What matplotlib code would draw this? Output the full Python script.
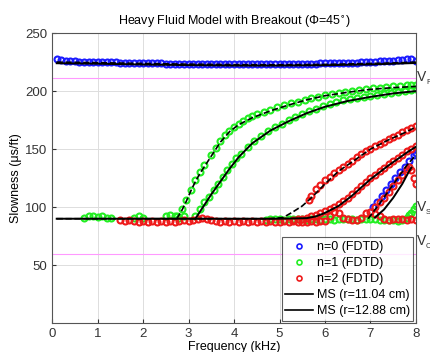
import matplotlib.pyplot as plt
from matplotlib.lines import Line2D

plt.rcParams['font.family'] = ['Liberation Sans', 'DejaVu Sans']

# n=0 (FDTD), main branch
f0 = [0.1, 0.2, 0.3, 0.4, 0.5, 0.6, 0.7, 0.8, 0.9, 1.0, 1.1, 1.2, 1.3, 1.4, 1.5, 1.6, 1.7, 1.8, 1.9, 2.0,
      2.1, 2.2, 2.3, 2.4, 2.5, 2.6, 2.7, 2.8, 2.9, 3.0, 3.1, 3.2, 3.3, 3.4, 3.5, 3.6, 3.7, 3.8, 3.9, 4.0,
      4.1, 4.2, 4.3, 4.4, 4.5, 4.6, 4.7, 4.8, 4.9, 5.0, 5.1, 5.2, 5.3, 5.4, 5.5, 5.6, 5.7, 5.8, 5.9, 6.0,
      6.1, 6.2, 6.3, 6.4, 6.5, 6.6, 6.7, 6.8, 6.9, 7.0, 7.1, 7.2, 7.3, 7.4, 7.5, 7.6, 7.7, 7.8, 7.9, 8.0]
s0 = [228, 226.5, 226, 225.8, 225.6, 225.5, 225.4, 225.3, 225.2, 225.1, 225, 224.9, 224.8, 224.7, 224.6, 224.5, 224.4, 224.3, 224.2, 224.1,
      224, 223.9, 223.8, 223.8, 223.7, 223.6, 223.6, 223.5, 223.5, 223.4, 223.4, 223.3, 223.3, 223.3, 223.2, 223.2, 223.2, 223.2, 223.2, 223.2,
      223.2, 223.2, 223.2, 223.2, 223.2, 223.2, 223.2, 223.2, 223.2, 223.3, 223.3, 223.3, 223.4, 223.4, 223.5, 223.5, 223.6, 223.7, 223.8, 223.9,
      224, 224.1, 224.2, 224.3, 224.4, 224.5, 224.6, 224.8, 225, 225.2, 225.4, 225.6, 225.8, 226, 226.3, 226.6, 227, 228, 227.5, 226]
# n=0 (FDTD), second branch
f0b = [7.05, 7.15, 7.25, 7.35, 7.45, 7.55, 7.65, 7.75, 7.85, 7.95, 8.0]
s0b = [100, 104, 110, 115, 120, 125, 130, 135, 140, 145, 147]

# n=1 (FDTD)
f1_low = [0.7, 0.8, 0.9, 1.0, 1.1, 1.2, 1.3, 1.8, 1.9, 2.0, 2.5, 2.6, 2.7, 2.8, 2.9]
s1_low = [91, 92, 92, 91.5, 92, 91, 90.5, 91, 92, 91, 92, 93, 92, 91, 92]
f1_a = [2.75, 2.85, 2.95, 3.05, 3.15, 3.25, 3.35, 3.5, 3.6, 3.7, 3.8, 3.9, 4.0, 4.1, 4.2, 4.3, 4.4, 4.5, 4.65, 4.8,
        4.95, 5.1, 5.25, 5.4, 5.55, 5.7, 5.85, 6.0, 6.15, 6.3, 6.45, 6.6, 6.75, 6.9, 7.05, 7.2, 7.35, 7.5, 7.65, 7.8, 7.9, 8.0]
s1_a = [92, 98, 106, 115, 123, 130, 136, 145, 151, 157, 162, 166, 169, 172, 174.5, 176.5, 178.5, 180, 182, 184,
        186, 188, 189.5, 191, 192.5, 194, 195.2, 196.5, 197.5, 198.5, 199.5, 200.5, 201.2, 202, 202.5, 203, 203.5, 204, 204.5, 205, 205.3, 205.5]
f1_b = [3.15, 3.25, 3.35, 3.45, 3.55, 3.65, 3.75, 3.85, 3.95, 4.05, 4.15, 4.3, 4.45, 4.6, 4.75, 4.9, 5.05, 5.2, 5.35, 5.5,
        5.65, 5.8, 5.95, 6.1, 6.25, 6.4, 6.55, 6.7, 6.85, 7.0, 7.15, 7.3, 7.45, 7.6, 7.75, 7.9, 8.0]
s1_b = [92, 98, 104, 109, 115, 120, 126, 132, 137, 142, 146, 152, 157, 161, 166, 169, 172, 175, 177.5, 180,
        182.5, 185, 187.5, 189, 190.5, 192, 193, 194, 195, 196, 197, 197.8, 198.5, 199.2, 200, 201, 201.5]
f1_s = [4.7, 4.8, 4.9, 5.0, 5.1, 5.2, 5.3, 5.4, 5.5, 5.6, 5.7, 5.8, 5.9, 6.0, 6.1, 6.2, 6.3, 6.4, 6.5, 6.6,
        6.7, 6.8, 6.9, 7.0, 7.1, 7.2, 7.3, 7.4, 7.5, 7.6, 7.7, 7.8, 7.85, 7.9, 7.95, 8.0]
s1_s = [89, 89.5, 90, 89.5, 89, 89.5, 90, 89.5, 89.5, 89, 90, 89.5, 89, 89.5, 90, 89, 89.5, 90, 90, 89.5,
        89, 89.5, 90, 89.5, 89.5, 89, 89, 88.5, 88.5, 88, 89, 91, 93, 95, 98, 101]

# n=2 (FDTD)
f2_low = [1.5, 1.6, 1.7, 1.8, 1.9, 2.0, 2.1, 2.2, 2.3, 2.4, 2.5, 2.6, 2.7, 2.8, 2.9, 3.0, 3.1, 3.2, 3.3, 3.4,
          3.5, 3.6, 3.7, 3.8, 3.9, 4.0, 4.1, 4.2, 4.3, 4.4, 4.5, 4.6, 4.7, 4.8, 4.9, 5.0, 5.1, 5.2, 5.3, 5.4,
          5.5, 5.6, 5.7, 5.8, 5.9]
s2_low = [89, 88, 88.5, 88, 87.5, 88, 87.5, 88, 87, 88, 87.5, 88, 87.5, 88, 88.5, 88, 89, 90, 91, 90,
          89, 88, 87.5, 88, 87, 88, 87.5, 88, 87.5, 88, 87, 88, 87.5, 88, 87, 87.5, 88, 87.5, 88, 87,
          87.5, 87, 88, 87.5, 88]
f2_a = [5.65, 5.7, 5.8, 5.9, 6.0, 6.1, 6.2, 6.3, 6.4, 6.5, 6.6, 6.7, 6.8, 6.9, 7.0, 7.1, 7.2, 7.3, 7.4, 7.5,
        7.6, 7.7, 7.8, 7.9, 8.0]
s2_a = [106, 110, 116, 119, 123, 126, 129, 132, 135, 137.5, 140, 143, 145.5, 148, 150.5, 152.5, 154.5, 156.5, 158.5, 160.5,
        162.5, 164.5, 166.5, 168, 170]
f2_b = [5.3, 5.4, 5.5, 5.6, 5.7, 5.8, 5.9, 6.0, 6.1, 6.2, 6.3, 6.4, 6.5, 6.6, 6.7, 6.8, 6.9, 7.0, 7.1, 7.2,
        7.3, 7.4, 7.5, 7.6, 7.7, 7.8, 7.9, 8.0]
s2_b = [89, 89.5, 90, 91, 92, 93, 95, 96.5, 98.5, 100.5, 103, 105.5, 108, 111, 114.5, 118, 121.5, 125, 128, 131,
        134, 137, 140, 142.5, 145, 148, 150.5, 153]
f2_w = [6.0, 6.1, 6.2, 6.3, 6.4, 6.5, 6.6, 6.7, 6.8, 6.9, 7.0, 7.1, 7.2, 7.3, 7.4, 7.5, 7.6, 7.7, 7.8, 7.9, 8.0]
s2_w = [88, 92, 96, 95, 91, 90, 89, 89, 91, 95, 96, 94, 92, 90, 89, 90, 89.5, 90, 89, 90, 89]
f2_c = [7.1, 7.2, 7.3, 7.4, 7.5, 7.6, 7.7, 7.8, 7.85, 7.9, 7.95, 8.0]
s2_c = [100, 104, 108, 113, 118, 123, 128, 133, 135, 132, 125, 120]

# MS model, r=11.04 cm (dashed) and r=12.88 cm (solid)
ms1_f0 = [0.1, 1.0, 2.0, 3.0, 4.0, 5.0, 6.0, 7.0, 7.5, 8.0]
ms1_s0 = [225, 224.5, 223.8, 223.2, 222.8, 222.7, 223, 223.8, 224.3, 225]
ms1_f1 = [2.74, 2.85, 2.95, 3.05, 3.15, 3.25, 3.35, 3.5, 3.7, 3.9, 4.1, 4.4, 4.8, 5.2, 5.6, 6.0, 6.5, 7.0, 7.5, 8.0]
ms1_s1 = [90, 97, 105, 114, 122, 129, 135, 144, 156, 165, 171, 177, 183, 188, 192.5, 196, 199, 201.5, 203, 204]
ms1_f2 = [0.1, 1.0, 2.0, 3.0, 4.0, 4.8, 5.08, 5.3, 5.5, 5.7, 6.0, 6.3, 6.6, 7.0, 7.4, 7.8, 8.0]
ms1_s2 = [90, 90, 90, 90, 90, 90, 91, 96, 101, 108, 120, 131, 139, 150, 158, 165, 169]
ms1_f3 = [6.95, 7.2, 7.4, 7.6, 7.8, 8.0]
ms1_s3 = [90, 103, 114, 125, 136, 145]
ms2_f0 = [0.1, 1.0, 2.0, 3.0, 4.0, 5.0, 6.0, 7.0, 7.5, 8.0]
ms2_s0 = [224, 223.6, 222.9, 222.4, 222, 222, 222.3, 223, 223.6, 224.2]
ms2_f1 = [3.15, 3.25, 3.35, 3.5, 3.7, 3.9, 4.1, 4.4, 4.8, 5.2, 5.6, 6.0, 6.5, 7.0, 7.5, 8.0]
ms2_s1 = [90, 96, 102, 111, 122, 133, 143, 155, 166, 174, 181, 186.5, 191.5, 195, 198, 200]
ms2_f2 = [0.1, 1.0, 2.0, 3.0, 4.0, 5.0, 5.6, 5.8, 6.0, 6.3, 6.6, 7.0, 7.4, 7.8, 8.0]
ms2_s2 = [90, 90, 90, 90, 90, 90, 90.5, 92, 95, 101, 110, 124, 136, 147, 152]
ms2_f3 = [7.1, 7.3, 7.5, 7.7, 7.85, 7.9]
ms2_s3 = [91, 98, 108, 120, 131, 134]

v_f = 211
v_c = 60

fig, ax = plt.subplots(figsize=(4.31, 3.52), dpi=100)
fig.subplots_adjust(left=0.121, right=0.965, top=0.906, bottom=0.082)

mk = dict(ls='none', marker='o', mfc='none', ms=4.3, mew=1.5)
ax.plot(f0, s0, color='#1a1aff', **mk)
ax.plot(f0b, s0b, color='#1a1aff', **mk)
for f, s in [(f1_low, s1_low), (f1_a, s1_a), (f1_b, s1_b), (f1_s, s1_s)]:
    ax.plot(f, s, color='#22ee22', **mk)
for f, s in [(f2_low, s2_low), (f2_a, s2_a), (f2_b, s2_b), (f2_w, s2_w), (f2_c, s2_c)]:
    ax.plot(f, s, color='#ee1a1a', **mk)

for f, s in [(ms1_f0, ms1_s0), (ms1_f1, ms1_s1), (ms1_f2, ms1_s2), (ms1_f3, ms1_s3)]:
    ax.plot(f, s, color='black', ls='--', lw=1.2)
for f, s in [(ms2_f0, ms2_s0), (ms2_f1, ms2_s1), (ms2_f2, ms2_s2), (ms2_f3, ms2_s3)]:
    ax.plot(f, s, color='black', ls='-', lw=1.4)

ax.axhline(v_f, color='#ff99ff', lw=0.8)
ax.axhline(v_c, color='#ff99ff', lw=0.8)

ax.text(8.02, 212, 'V', fontsize=10, va='center', ha='left', color='#333333')
ax.text(8.22, 207, 'F', fontsize=5.5, va='center', ha='left', color='#333333')
ax.text(8.02, 100, 'V', fontsize=10, va='center', ha='left', color='#333333')
ax.text(8.22, 95, 'S', fontsize=5.5, va='center', ha='left', color='#333333')
ax.text(8.02, 71, 'V', fontsize=10, va='center', ha='left', color='#333333')
ax.text(8.22, 66, 'C', fontsize=5.5, va='center', ha='left', color='#333333')

ax.set_xlim(0, 8)
ax.set_ylim(0, 250)
ax.set_xticks(range(0, 9))
ax.set_yticks([50, 100, 150, 200, 250])
ax.grid(True, color='#dddddd', lw=0.7)
ax.tick_params(labelsize=9.5, direction='in', length=3, colors='#333333')
for sp in ax.spines.values():
    sp.set_color('#555555')
ax.set_xlabel('Frequency (kHz)', fontsize=9, labelpad=1)
ax.set_ylabel('Slowness (μs/ft)', fontsize=9, labelpad=2)
ax.set_title('Heavy Fluid Model with Breakout (Φ=45$^{\\circ}$)', fontsize=9, pad=6)

handles = [
    Line2D([], [], color='#1a1aff', marker='o', mfc='none', ls='none', ms=3.6, mew=1.2),
    Line2D([], [], color='#22ee22', marker='o', mfc='none', ls='none', ms=3.6, mew=1.2),
    Line2D([], [], color='#ee1a1a', marker='o', mfc='none', ls='none', ms=3.6, mew=1.2),
    Line2D([], [], color='black', lw=1.2),
    Line2D([], [], color='black', lw=1.2),
]
labels = ['n=0 (FDTD)', 'n=1 (FDTD)', 'n=2 (FDTD)', 'MS (r=11.04 cm)', 'MS (r=12.88 cm)']
leg = ax.legend(handles, labels, loc='lower right', fontsize=9, frameon=True, fancybox=False,
                edgecolor='#333333', borderaxespad=0.2, handlelength=2.2, handletextpad=0.3,
                labelspacing=0.32, borderpad=0.3)
leg.get_frame().set_linewidth(0.8)

fig.savefig('out.png', dpi=100)
